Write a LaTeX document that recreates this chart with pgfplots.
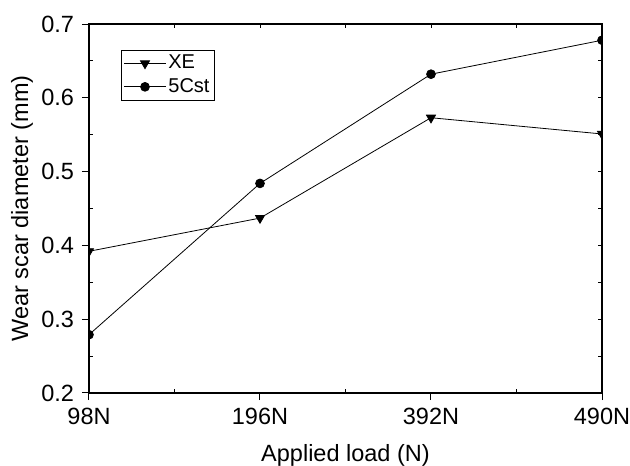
\documentclass[border=0pt]{standalone}
\usepackage{fontspec}
\setmainfont{Liberation Sans}
\usepackage{pgfplots}
\pgfplotsset{compat=1.18}
\begin{document}
\fontsize{23.5}{28}\selectfont
\begin{tikzpicture}
\pgfplotsset{
 common/.style={
  at={(0,0)}, anchor=south west,
  scale only axis, width=513pt, height=369pt,
  xmin=0,xmax=3,ymin=0.2,ymax=0.7,
  axis line style={line width=1.2pt},
  tick style={line width=1pt, black},
 }
}
% inner ticks top/right
\begin{axis}[common, xtick={0,0.5,1,1.5,2,2.5,3}, ytick={0.2,0.25,0.3,0.35,0.4,0.45,0.5,0.55,0.6,0.65,0.7},
  xticklabels={}, yticklabels={}, xtick pos=right, ytick pos=right, tick align=inside, major tick length=4pt]
\end{axis}
% inner minor ticks bottom/left
\begin{axis}[common, xtick={0.5,1.5,2.5}, ytick={0.25,0.35,0.45,0.55,0.65},
  xticklabels={}, yticklabels={}, xtick pos=left, ytick pos=left, tick align=inside, major tick length=4pt]
\end{axis}
\begin{axis}[common,
  xtick={0,1,2,3}, xticklabels={98N,196N,392N,490N},
  ytick={0.2,0.3,0.4,0.5,0.6,0.7},
  xtick pos=left, ytick pos=left, tick align=outside, major tick length=7pt,
  ticklabel style={font=\fontsize{23.5}{28}\selectfont},
  yticklabel style={/pgf/number format/fixed, /pgf/number format/precision=1, /pgf/number format/fixed zerofill},
  /pgf/number format/assume math mode=true,
  xlabel={Applied load (N)}, ylabel={Wear scar diameter (mm)},
  label style={font=\fontsize{23.5}{28}\selectfont},
  xlabel style={at={(axis description cs:0.5,-0.168)}, anchor=center},
  ylabel style={at={(axis description cs:-0.1306,0.5)}, anchor=center},
  clip marker paths=true,
  legend cell align=left,
  legend style={at={(axis description cs:0.062,0.9295)}, anchor=north west, draw=black, line width=0.6pt,
    font=\fontsize{20}{24}\selectfont, inner sep=2.5pt, row sep=2pt,
    nodes={inner sep=2pt}},
  legend image code/.code={\draw[#1, mark repeat=2, mark phase=2] plot coordinates {(0pt,0pt)(21pt,0pt)(42pt,0pt)};},
]
\addplot[black, line width=0.8pt, mark=triangle*, mark size=5.2pt, mark options={rotate=180, solid, fill=black}]
 coordinates {(0,0.392) (1,0.437) (2,0.573) (3,0.551)};
\addlegendentry{XE}
\addplot[black, line width=0.8pt, mark=*, mark size=4.4pt, mark options={solid, fill=black}]
 coordinates {(0,0.279) (1,0.484) (2,0.632) (3,0.678)};
\addlegendentry{5Cst}
\end{axis}
\pgfresetboundingbox
\path[use as bounding box] (-89pt,-73pt) rectangle (541pt,393pt);
\end{tikzpicture}
\end{document}
